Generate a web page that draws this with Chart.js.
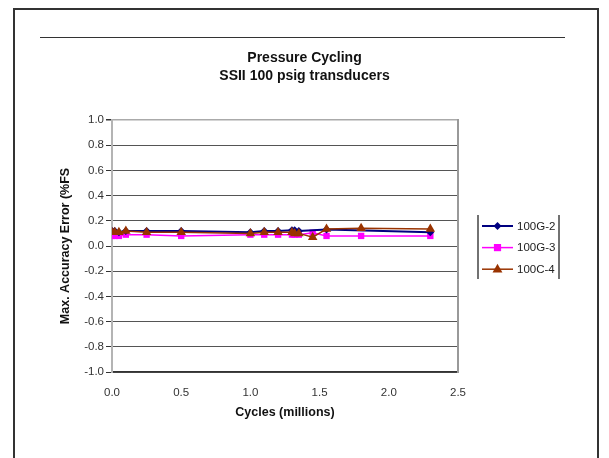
<!DOCTYPE html>
<html lang="en">
  <head>
    <meta charset="UTF-8" />
    <title>Pressure Cycling</title>
    <script src="https://cdn.jsdelivr.net/npm/chart.js"></script>
    <style>
      body {
        margin: 0;
        background: #fff;
        overflow: hidden;
        font-family: "Liberation Sans", Arial, sans-serif;
      }
      .page {
        position: relative;
        width: 609px;
        height: 458px;
      }
      /* page frame around the chart */
      .frame {
        position: absolute;
        left: 13px;
        top: 8px;
        width: 582px;
        height: 470px;
        border: 2.5px solid #333;
      }
      .rule {
        position: absolute;
        left: 40px;
        top: 37px;
        width: 525px;
        height: 0;
        border-top: 1.5px solid #333;
      }
      .wrap {
        position: absolute;
        left: 0;
        top: 0;
        width: 609px;
        height: 458px;
      }
    </style>
  </head>
  <body>
    <div class="page">
      <div class="frame"></div>
      <div class="rule"></div>
      <div class="wrap"><canvas id="chart"></canvas></div>
    </div>

    <script>
      // cycles in millions
      const cycles = [0, 0.02, 0.05, 0.1, 0.25, 0.5, 1.0, 1.1, 1.2, 1.3, 1.32, 1.35, 1.45, 1.55, 1.8, 2.3];
      const g2 = [0.12, 0.12, 0.11, 0.12, 0.12, 0.12, 0.11, 0.12, 0.12, 0.125, 0.125, 0.12, null, 0.13, null, 0.11];
      const g3 = [0.08, 0.08, 0.08, 0.09, 0.09, 0.08, 0.09, 0.09, 0.09, 0.09, 0.09, 0.09, 0.105, 0.08, 0.08, 0.08];
      const c4 = [0.11, 0.11, 0.11, 0.12, 0.11, 0.11, 0.10, 0.11, 0.11, 0.11, 0.10, 0.10, 0.07, 0.135, 0.14, 0.135];
      const seriesNames = ["100G-2", "100G-3", "100C-4"];
      const xTicks = [0, 0.5, 1.0, 1.5, 2.0, 2.5];

      function toPoints(vals) {
        const pts = [];
        vals.forEach((v, i) => {
          if (v !== null) pts.push({ x: cycles[i], y: v });
        });
        return pts;
      }

      function marker(ctx, style, x, y, r) {
        ctx.beginPath();
        if (style === "rectRot") {
          ctx.moveTo(x, y - r);
          ctx.lineTo(x + r, y);
          ctx.lineTo(x, y + r);
          ctx.lineTo(x - r, y);
        } else if (style === "rect") {
          ctx.rect(x - r * 0.8, y - r * 0.8, r * 1.6, r * 1.6);
        } else {
          ctx.moveTo(x, y - r);
          ctx.lineTo(x + r * 0.9, y + r * 0.6);
          ctx.lineTo(x - r * 0.9, y + r * 0.6);
        }
        ctx.closePath();
        ctx.fill();
      }

      // excel-like legend box to the right of the plot
      const legendBox = {
        id: "legendBox",
        afterDraw(chart) {
          const { ctx, chartArea } = chart;
          const x0 = chartArea.right + 20;
          const x1 = chartArea.right + 101;
          const mid = (chartArea.top + chartArea.bottom) / 2;
          ctx.save();
          ctx.strokeStyle = "#444";
          ctx.lineWidth = 1.5;
          ctx.beginPath();
          ctx.moveTo(x0, mid - 31);
          ctx.lineTo(x0, mid + 33);
          ctx.moveTo(x1, mid - 31);
          ctx.lineTo(x1, mid + 33);
          ctx.stroke();
          chart.data.datasets.forEach((ds, i) => {
            const y = mid - 20 + i * 21.6;
            ctx.strokeStyle = ds.borderColor;
            ctx.lineWidth = ds.borderWidth;
            ctx.beginPath();
            ctx.moveTo(x0 + 4, y);
            ctx.lineTo(x0 + 35, y);
            ctx.stroke();
            ctx.fillStyle = ds.pointBackgroundColor;
            marker(ctx, ds.pointStyle, x0 + 19.5, y, ds.pointRadius);
            ctx.fillStyle = "#222";
            ctx.font = "11.5px 'Liberation Sans', Arial, sans-serif";
            ctx.textBaseline = "middle";
            ctx.fillText(ds.label, x0 + 39, y + 0.5);
          });
          ctx.restore();
        },
      };

      new Chart(document.getElementById("chart"), {
        type: "scatter",
        data: {
          datasets: [
            {
              label: seriesNames[0],
              data: toPoints(g2),
              showLine: true,
              borderColor: "#000080",
              backgroundColor: "#000080",
              pointBackgroundColor: "#000080",
              borderWidth: 2,
              pointStyle: "rectRot",
              pointRadius: 4,
              pointBorderWidth: 0,
              order: 1,
            },
            {
              label: seriesNames[1],
              data: toPoints(g3),
              showLine: true,
              borderColor: "#ff00ff",
              backgroundColor: "#ff00ff",
              pointBackgroundColor: "#ff00ff",
              borderWidth: 1.5,
              pointStyle: "rect",
              pointRadius: 4.5,
              pointBorderWidth: 0,
              order: 2,
            },
            {
              label: seriesNames[2],
              data: toPoints(c4),
              showLine: true,
              borderColor: "#993300",
              backgroundColor: "#993300",
              pointBackgroundColor: "#993300",
              borderWidth: 1.5,
              pointStyle: "triangle",
              pointRadius: 5.5,
              pointBorderWidth: 0,
              order: 0,
            },
          ],
        },
        options: {
          responsive: true,
          maintainAspectRatio: false,
          animation: false,
          layout: { padding: 0 },
          plugins: {
            legend: { display: false },
            tooltip: { enabled: false },
            title: {
              display: true,
              text: ["Pressure Cycling", "SSII 100 psig transducers"],
              color: "#111",
              font: { family: "'Liberation Sans', Arial, sans-serif", size: 14, weight: "bold", lineHeight: 1.3 },
              padding: { top: 49, bottom: 34.6 },
            },
          },
          scales: {
            x: {
              type: "linear",
              min: 0,
              max: 2.5,
              afterBuildTicks: (s) => {
                s.ticks = xTicks.map((v) => ({ value: v }));
              },
              afterFit: (s) => {
                s.height = 86;
              },
              grid: { display: false },
              border: { display: true, color: "#333", width: 1.5 },
              ticks: {
                padding: 6,
                color: "#333",
                font: { family: "'Liberation Sans', Arial, sans-serif", size: 11.5 },
                callback: (v) => Number(v).toFixed(1),
              },
              title: {
                display: true,
                text: "Cycles (millions)",
                color: "#111",
                font: { family: "'Liberation Sans', Arial, sans-serif", size: 12.5, weight: "bold" },
                padding: { top: 4, bottom: 37.5 },
              },
            },
            y: {
              min: -1,
              max: 1,
              afterFit: (s) => {
                s.width = 112;
              },
              ticks: {
                stepSize: 0.2,
                padding: 2,
                color: "#333",
                font: { family: "'Liberation Sans', Arial, sans-serif", size: 11.5 },
                callback: (v) => (Math.abs(v) < 1e-9 ? "0.0" : Number(v).toFixed(1)),
              },
              grid: {
                color: (c) => (c.tick && c.tick.value > 0.99 ? "#aaa" : "#555"),
                lineWidth: (c) => (c.tick && c.tick.value > 0.99 ? 1.5 : 1),
                tickColor: "#333",
                tickLength: 6,
              },
              border: { display: true, color: "#b4b4b4", width: 2 },
              title: {
                display: true,
                text: "Max. Accuracy Error (%FS",
                color: "#111",
                font: { family: "'Liberation Sans', Arial, sans-serif", size: 12.5, weight: "bold" },
                padding: { top: 58.5, bottom: 4 },
              },
            },
            // empty right axis: reserves room for the legend and draws the plot's right edge
            yRight: {
              type: "linear",
              position: "right",
              min: -1,
              max: 1,
              afterFit: (s) => {
                s.width = 151;
              },
              grid: { display: false },
              ticks: { display: false },
              border: { display: true, color: "#999", width: 2 },
            },
          },
        },
        plugins: [legendBox],
      });
    </script>
  </body>
</html>
